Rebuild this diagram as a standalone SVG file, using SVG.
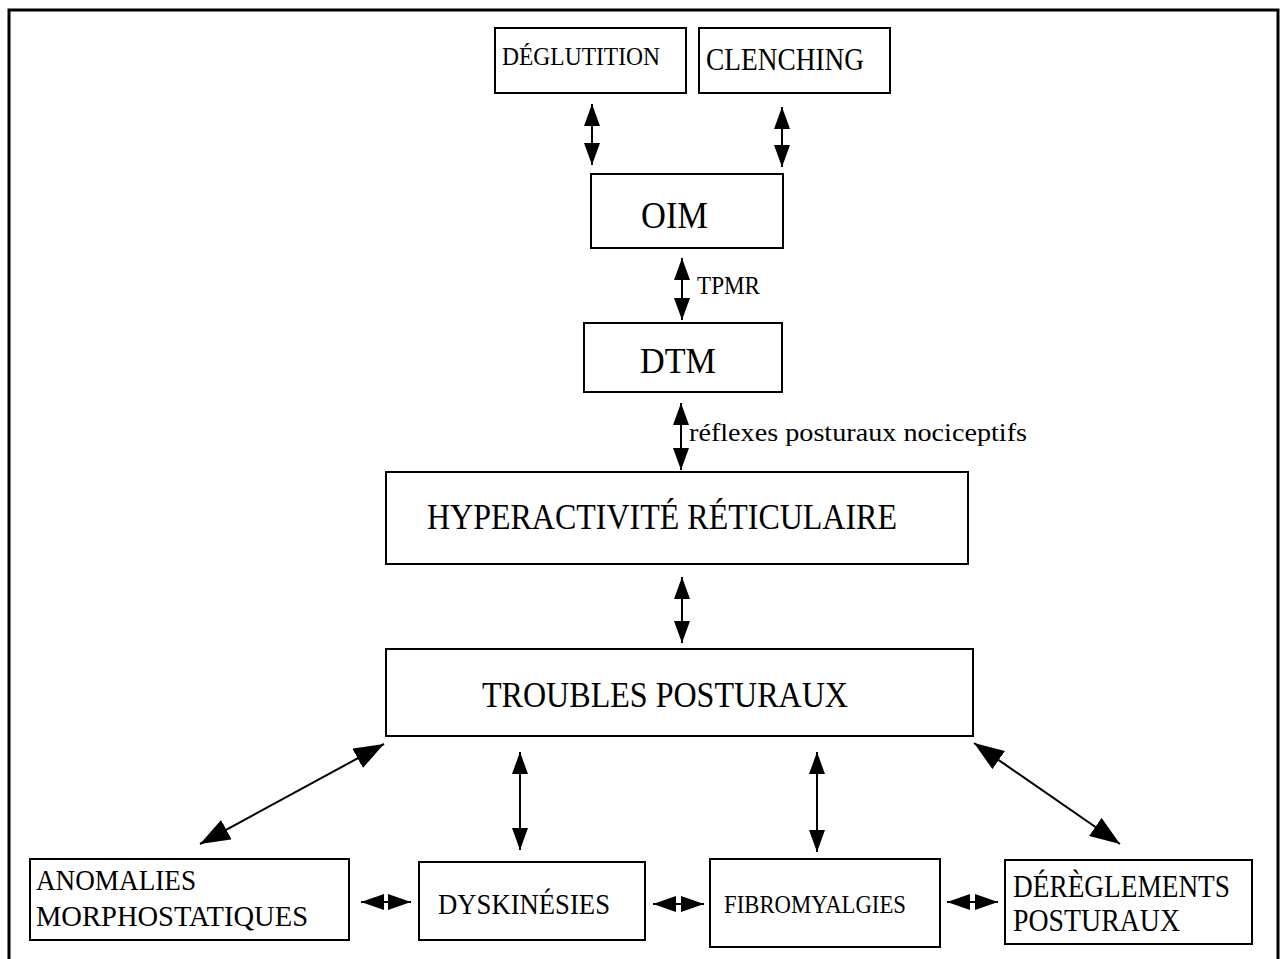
<svg xmlns="http://www.w3.org/2000/svg" width="1282" height="959" viewBox="0 0 1282 959">
<style>
.box{fill:#fff;stroke:#000;stroke-width:2}
.t{font-family:"Liberation Serif",serif;fill:#000}
.c{stroke:#000;stroke-width:2;fill:none}
</style>
<defs>
<marker id="a" viewBox="0 0 22 16" refX="22" refY="8" markerWidth="22" markerHeight="16" markerUnits="userSpaceOnUse" orient="auto-start-reverse"><path d="M0,0 L22,8 L0,16 z" fill="#000"/></marker>
<marker id="b" viewBox="0 0 30 22" refX="30" refY="11" markerWidth="30" markerHeight="22" markerUnits="userSpaceOnUse" orient="auto-start-reverse"><path d="M0,0 L30,11 L0,22 z" fill="#000"/></marker>
<marker id="h" viewBox="0 0 23 16" refX="23" refY="8" markerWidth="23" markerHeight="16" markerUnits="userSpaceOnUse" orient="auto-start-reverse"><path d="M0,0 L23,8 L0,16 z" fill="#000"/></marker>
</defs>
<rect x="0" y="0" width="1282" height="959" fill="#fff"/>
<rect x="9" y="10" width="1269" height="960" fill="none" stroke="#000" stroke-width="3"/>
<g id="connectors">
<line class="c" x1="592" y1="104" x2="592" y2="165" marker-start="url(#a)" marker-end="url(#a)"/>
<line class="c" x1="782" y1="107" x2="782" y2="167" marker-start="url(#a)" marker-end="url(#a)"/>
<line class="c" x1="682" y1="258" x2="682" y2="320" marker-start="url(#a)" marker-end="url(#a)"/>
<line class="c" x1="681" y1="403" x2="681" y2="470" marker-start="url(#a)" marker-end="url(#a)"/>
<line class="c" x1="682" y1="577" x2="682" y2="643" marker-start="url(#a)" marker-end="url(#a)"/>
<line class="c" x1="384" y1="744" x2="200" y2="844" marker-start="url(#b)" marker-end="url(#b)"/>
<line class="c" x1="974" y1="743" x2="1120" y2="844" marker-start="url(#b)" marker-end="url(#b)"/>
<line class="c" x1="520" y1="752" x2="520" y2="850" marker-start="url(#a)" marker-end="url(#a)"/>
<line class="c" x1="817" y1="752" x2="817" y2="852" marker-start="url(#a)" marker-end="url(#a)"/>
<line class="c" x1="361" y1="902" x2="411" y2="902" marker-start="url(#h)" marker-end="url(#h)"/>
<line class="c" x1="653" y1="904" x2="704" y2="904" marker-start="url(#h)" marker-end="url(#h)"/>
<line class="c" x1="947" y1="902" x2="998" y2="902" marker-start="url(#h)" marker-end="url(#h)"/>
<text class="t" x="697" y="294" font-size="25" textLength="63" lengthAdjust="spacingAndGlyphs">TPMR</text>
<text class="t" x="689" y="441" font-size="25" textLength="338" lengthAdjust="spacingAndGlyphs">réflexes posturaux nociceptifs</text>
</g>
<g id="deglutition"><rect class="box" x="495" y="28" width="191" height="65"/><text class="t" x="502" y="65" font-size="25" textLength="158" lengthAdjust="spacingAndGlyphs">DÉGLUTITION</text></g>
<g id="clenching"><rect class="box" x="699" y="28" width="191" height="65"/><text class="t" x="706" y="70" font-size="32" textLength="158" lengthAdjust="spacingAndGlyphs">CLENCHING</text></g>
<g id="oim"><rect class="box" x="591" y="174" width="192" height="74"/><text class="t" x="641" y="228" font-size="37" textLength="67" lengthAdjust="spacingAndGlyphs">OIM</text></g>
<g id="dtm"><rect class="box" x="584" y="323" width="198" height="69"/><text class="t" x="640" y="373" font-size="35" textLength="76" lengthAdjust="spacingAndGlyphs">DTM</text></g>
<g id="hyperactivite"><rect class="box" x="386" y="472" width="582" height="92"/><text class="t" x="427" y="529" font-size="35" textLength="470" lengthAdjust="spacingAndGlyphs">HYPERACTIVITÉ RÉTICULAIRE</text></g>
<g id="troubles"><rect class="box" x="386" y="649" width="587" height="87"/><text class="t" x="482" y="707" font-size="35" textLength="366" lengthAdjust="spacingAndGlyphs">TROUBLES POSTURAUX</text></g>
<g id="anomalies"><rect class="box" x="30" y="859" width="319" height="81"/><text class="t" x="36" y="890" font-size="30" textLength="160" lengthAdjust="spacingAndGlyphs">ANOMALIES</text><text class="t" x="36" y="926" font-size="30" textLength="272" lengthAdjust="spacingAndGlyphs">MORPHOSTATIQUES</text></g>
<g id="dyskinesies"><rect class="box" x="419" y="862" width="226" height="78"/><text class="t" x="438" y="914" font-size="30" textLength="172" lengthAdjust="spacingAndGlyphs">DYSKINÉSIES</text></g>
<g id="fibromyalgies"><rect class="box" x="710" y="859" width="230" height="88"/><text class="t" x="724" y="913" font-size="25" textLength="182" lengthAdjust="spacingAndGlyphs">FIBROMYALGIES</text></g>
<g id="dereglements"><rect class="box" x="1005" y="860" width="247" height="84"/><text class="t" x="1013" y="897" font-size="31" textLength="217" lengthAdjust="spacingAndGlyphs">DÉRÈGLEMENTS</text><text class="t" x="1013" y="931" font-size="31" textLength="167" lengthAdjust="spacingAndGlyphs">POSTURAUX</text></g>
</svg>
